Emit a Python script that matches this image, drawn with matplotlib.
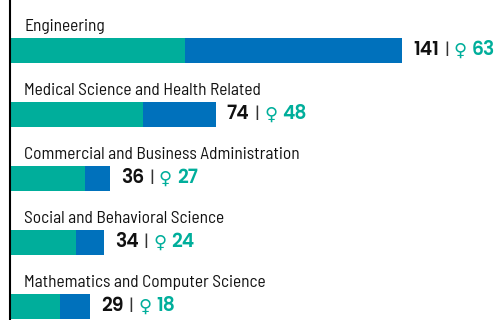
import matplotlib
matplotlib.use("Agg")
import matplotlib.pyplot as plt
from matplotlib import font_manager
from matplotlib.offsetbox import TextArea, HPacker, AnnotationBbox

fields = [
    "Engineering",
    "Medical Science and Health Related",
    "Commercial and Business Administration",
    "Social and Behavioral Science",
    "Mathematics and Computer Science",
]
total = [141, 74, 36, 34, 29]
female = [63, 48, 27, 24, 18]

teal = "#00AE9B"
blue = "#0071BC"


def pick(candidates, min_weight=0):
    # first family that is installed with a face at least this heavy
    fonts = font_manager.fontManager.ttflist
    for c in candidates:
        if any(f.name == c and f.weight >= min_weight for f in fonts):
            return c
    return "DejaVu Sans"


label_font = pick(["Barlow Semi Condensed", "Roboto Condensed", "Archivo Narrow"])
num_font = [pick(["Montserrat", "Poppins", "Figtree", "Red Hat Display", "Lato"], 600),
            "DejaVu Sans"]

fig = plt.figure(figsize=(5.02, 3.2), dpi=100)
ax = fig.add_axes([9.5 / 502, 0, 1 - 9.5 / 502, 1])

male = [t - f for t, f in zip(total, female)]
ypos = list(range(len(fields)))
ax.barh(ypos, female, height=0.39, color=teal, linewidth=0)
ax.barh(ypos, male, left=female, height=0.39, color=blue, linewidth=0)

px_per_unit = 2.787
ax.set_xlim(0, (502 - 9.5) / px_per_unit)
ax.set_ylim(4.211, -0.789)

for i, name in enumerate(fields):
    ax.annotate(name, (0, i), xytext=(15, 19.5), textcoords="offset pixels",
                ha="left", va="baseline", fontsize=12.5, family=label_font,
                color="#111111")
    parts = HPacker(children=[
        TextArea(str(total[i]), textprops=dict(fontsize=13.5, fontweight="semibold",
                                               family=num_font, color="#111111")),
        TextArea("|", textprops=dict(fontsize=12, family=num_font, color="#333333")),
        TextArea("\u2640", textprops=dict(fontsize=13, family=["DejaVu Sans"],
                                          color=teal)),
        TextArea(str(female[i]), textprops=dict(fontsize=13.5, fontweight="semibold",
                                                family=num_font, color=teal)),
    ], pad=0, sep=3.5, align="center")
    ab = AnnotationBbox(parts, (total[i], i), xybox=(11, 0), xycoords="data",
                        boxcoords="offset pixels", box_alignment=(0, 0.5),
                        frameon=False, pad=0)
    ax.add_artist(ab)

for side in ["top", "right", "bottom"]:
    ax.spines[side].set_visible(False)
ax.spines["left"].set_linewidth(1.5)
ax.set_xticks([])
ax.set_yticks([])

fig.savefig("out.png", dpi=100)
